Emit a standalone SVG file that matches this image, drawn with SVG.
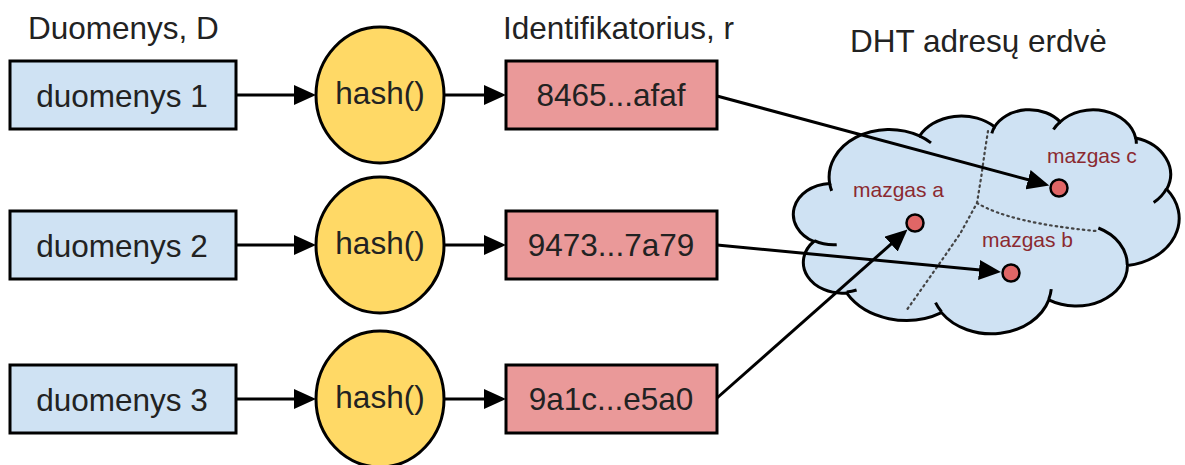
<svg xmlns="http://www.w3.org/2000/svg" width="1185" height="465" viewBox="0 0 1185 465">
<defs>
<style>
.t{font-family:"Liberation Sans",Arial,sans-serif;font-size:31.5px;fill:#222}
.lbl{font-family:"Liberation Sans",Arial,sans-serif;font-size:21px;fill:#8b2a30}
.blue{fill:#cfe2f3;stroke:#000;stroke-width:3}
.red{fill:#ea9999;stroke:#000;stroke-width:3}
.hash{fill:#ffd966;stroke:#000;stroke-width:3}
.dot{fill:#e06666;stroke:#000;stroke-width:2.5}
.edge{fill:none;stroke:#000;stroke-width:3;marker-end:url(#ah)}
.crease{fill:none;stroke:#000;stroke-width:3}
.dots{fill:none;stroke:#444;stroke-width:2.2;stroke-dasharray:1.5 4;stroke-linecap:round}
</style>
<marker id="ah" markerUnits="userSpaceOnUse" viewBox="0 0 22 20" markerWidth="22" markerHeight="20" refX="12" refY="10" orient="auto">
<path d="M0,0 L22,10 L0,20 Z" fill="#000"/>
</marker>
</defs>
<rect width="1185" height="465" fill="#fff"/>
<g id="headers">
<text class="t" x="28" y="39">Duomenys, D</text>
<text class="t" x="503" y="39">Identifikatorius, r</text>
<text class="t" x="850" y="52">DHT adresų erdvė</text>
</g>
<g id="cloud">
<path class="blue" d="M829.67,183.51 A60.03,47.65 0 0 1 919.5,135.98 A47.4,37.68 0 0 1 994.61,126.8 A38.8,30.83 0 0 1 1060.19,121.87 A43.17,34.2 0 0 1 1135.61,137.92 A47.4,37.71 0 0 1 1166.72,189.17 A60.22,47.81 0 0 1 1127.48,265.61 A51.42,40.79 0 0 1 1048.83,299.89 A60.02,47.78 0 0 1 941.5,312.61 A68.62,54.67 0 0 1 846.6,292.93 A38.76,30.69 0 0 1 813.78,241.49 A38.62,30.83 0 0 1 829.67,183.51 Z"/>
<path class="crease" d="M836.72,244.73 A38.62,30.83 0 0 1 814.19,240.6 M856.58,289.96 A38.76,30.69 0 0 1 846.73,291.94 M941.47,311.69 A60.02,47.78 0 0 1 935.53,302.66 M1051.24,289.19 A60.02,47.78 0 0 1 1048.87,299.09 M1098.37,228.02 A51.42,40.79 0 0 1 1127.27,265.02 M1166.54,188.61 A47.4,37.71 0 0 1 1153.67,202.49 M1135.66,137.13 A43.17,34.2 0 0 1 1136.34,143.68 M1053.47,129.49 A43.17,34.2 0 0 1 1060.19,121.87 M991.81,133.47 A38.8,30.83 0 0 1 994.61,126.8 M919.44,135.92 A60.03,47.65 0 0 1 930.99,142.9 M831.68,190.87 A60.03,47.65 0 0 1 829.67,183.51"/>
<path class="dots" d="M988,131 L985,150 L981.5,175 L977,203 L960,234 L937,267 L906,311"/>
<path class="dots" d="M977,203 Q1010,223 1096,231"/>
</g>
<g id="d1"><rect class="blue" x="10" y="61" width="226" height="68"/><text class="t" x="122" y="107" text-anchor="middle">duomenys 1</text></g>
<g id="d2"><rect class="blue" x="10" y="211" width="226" height="68"/><text class="t" x="122" y="257" text-anchor="middle">duomenys 2</text></g>
<g id="d3"><rect class="blue" x="10" y="365" width="226" height="68"/><text class="t" x="122" y="411" text-anchor="middle">duomenys 3</text></g>
<g id="h1"><ellipse class="hash" cx="380" cy="95" rx="64" ry="68"/><text class="t" x="380" y="104" text-anchor="middle">hash()</text></g>
<g id="h2"><ellipse class="hash" cx="380" cy="245" rx="64" ry="68"/><text class="t" x="380" y="254" text-anchor="middle">hash()</text></g>
<g id="h3"><ellipse class="hash" cx="380" cy="399" rx="64" ry="68"/><text class="t" x="380" y="408" text-anchor="middle">hash()</text></g>
<g id="r1"><rect class="red" x="506" y="61" width="211" height="68"/><text class="t" x="611" y="106" text-anchor="middle">8465...afaf</text></g>
<g id="r2"><rect class="red" x="506" y="211" width="211" height="68"/><text class="t" x="611" y="256" text-anchor="middle">9473...7a79</text></g>
<g id="r3"><rect class="red" x="506" y="365" width="211" height="68"/><text class="t" x="611" y="410" text-anchor="middle">9a1c...e5a0</text></g>
<g id="na"><circle class="dot" cx="915" cy="223" r="8.5"/><text class="lbl" x="853" y="197">mazgas a</text></g>
<g id="nb"><circle class="dot" cx="1011" cy="273" r="8.5"/><text class="lbl" x="982" y="247">mazgas b</text></g>
<g id="nc"><circle class="dot" cx="1059" cy="188" r="8.5"/><text class="lbl" x="1047" y="163">mazgas c</text></g>
<g id="connectors">
<line class="edge" x1="236" y1="95" x2="306" y2="95"/>
<line class="edge" x1="236" y1="245" x2="306" y2="245"/>
<line class="edge" x1="236" y1="399" x2="306" y2="399"/>
<line class="edge" x1="445" y1="95" x2="496" y2="95"/>
<line class="edge" x1="445" y1="245" x2="496" y2="245"/>
<line class="edge" x1="445" y1="399" x2="496" y2="399"/>
<line class="edge" x1="717" y1="96" x2="1039.6" y2="182.8"/>
<line class="edge" x1="717" y1="245" x2="991" y2="271.1"/>
<line class="edge" x1="717" y1="398" x2="900" y2="236.2"/>
</g>
</svg>
